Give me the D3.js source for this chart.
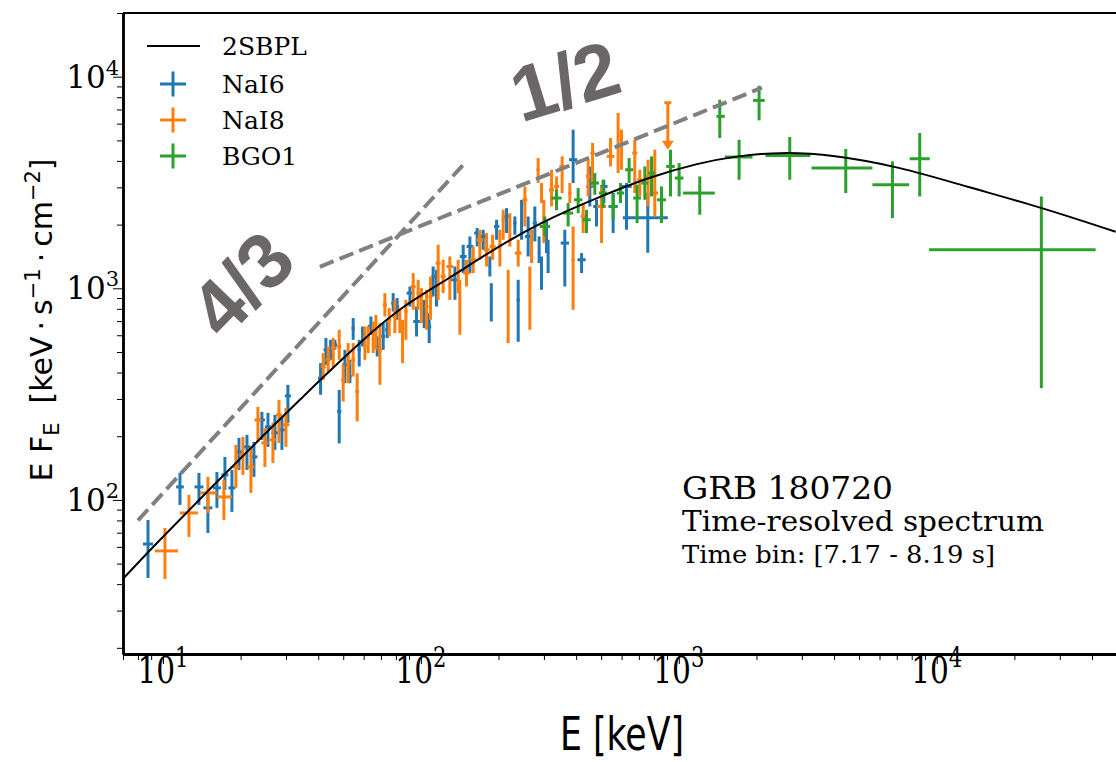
<!DOCTYPE html>
<html><head><meta charset="utf-8">
<script src="https://cdn.jsdelivr.net/npm/d3@7"></script>
<style>body{margin:0;background:#fff}svg{display:block}</style>
</head><body>
<svg id="chart" width="1116" height="762"></svg>
<script>
// ---------------- data (E [keV], E F_E, lower, upper, optional E bin low/high) ----------------
const modelCurve = [[7.0,42.4],[9.15,60],[15,111],[25,207],[34,297],[40.6,369],[60,575],[83,810],[126,1096],[190,1521],[289,2042],[494,2711],[773,3366],[1206,3918],[1618,4190],[2462,4415],[3953,4276],[7190,3750],[13070,3019],[25060,2428],[49400,1849]];

const nai6 = [
[8.75,61.9,42.8,80.4,8.37,9.15],[11.64,115.2,94.7,134.2,11.25,12.05],[13.79,115.2,94.7,134.2],[14.94,91.7,69.8,107.9],
[16.19,114,91.7,135.6],[17.39,131.3,111.5,159.7],[18.51,114,87.8,138.6],[19.71,168.7,138.6,196.4],[21.17,178.1,138.6,202.9],
[22.53,159.7,128.5,188.0],[24.19,238.9,192.2,260.7],[25.53,221.4,178.1,257.8],[27.17,207.4,172.4,252.3],[28.92,214.3,172.4,246.9],
[30.51,310.2,231.3,349.8],[40.85,376,314,443],[42.83,512,435,582],[44.67,512,459,571],[46.42,541,512,571],[48.24,262,185,331],
[50.75,435,356,512],[53.06,383,356,459],[54.65,648,571,723],[57.67,512,427,571],[59.43,637,531,660],[64.01,660,603,736],
[67.72,531,476,592],[71.44,592,512,685],[74.04,637,582,697],[78.1,851,777,949],[80.92,820,710,899],[90.7,949,820,1020],
[96.2,697,592,820],[103.0,763,648,882],[107.7,660,551,763],
[111.6,1137,915,1268],[115.0,1097,820,1223],[135.5,1097,882,1268],[145.9,1414,1180,1606],[154.9,1577,1180,1758],
[165.3,1824,1577,1926],[174.4,1758,1521,1891],[185.1,1268,1137,1414],[187.5,851,697,1058],[196.6,1960,1696,2108],[214.9,2185,1824,2394],
[231.4,2034,1791,2185],[238.4,882,559,1097],[245.7,2528,1696,2620],[260.6,1758,1414,2185],[276.6,2034,1665,2437],[287.4,1467,1316,1758],
[293.6,1160,984,1414],
[307,1758,1467,2108],[311.4,1467,1180,1696],[361.5,1636,1020,1891],[389.3,4052,3144,5616],[419.8,1364,1180,1467],
[451.9,3030,2437,3766],[479.7,2437,1960,2620],[512.2,3030,2528,3258],[556.4,2437,1824,2819],[627.0,3030,1891,3144],
[758.2,2154,1472,2828,606.6,906.7]
];

const nai8 = [
[10.18,57.4,42.3,73.7,9.31,11.43],[12.61,86.8,66.9,105.6,11.64,13.67],[14.94,107.9,86.8,128.5,13.91,16.19],[17.23,103.3,80.4,124.3,16.19,18.51],
[19.18,143.2,114,182],[20.42,163.3,131.3,198.6],[21.93,143.2,107.9,178.1],[23.35,238.9,188,275.3],[24.85,186,143.2,219],
[26.69,192.2,149.6,231.3],[28.17,252.3,186,297],[29.98,226.3,178.1,272.3],
[41.81,427,369,494],[43.72,459,397,531],[45.72,522,419,582],[48.24,531,459,637],[49.98,369,292,435],[52.26,443,356,551],
[54.65,459,383,551],[56.64,325,235,397],[60.67,531,459,660],[62.48,582,494,660],[65.33,571,494,697],[66.93,637,512,749],
[69.36,512,350,685],[72.53,836,736,949],[75.36,710,592,806],[79.29,736,614,882],[82.9,685,614,806],[84.92,571,443,710],
[87.48,777,571,882],[93.37,1020,791,1180],[97.6,949,791,1097],[100.5,915,685,1002],[105.2,820,637,984],[109.0,915,710,1137],
[116.7,1316,882,1606],[122.0,1137,949,1364],[129.5,1268,882,1414],[139.5,1223,949,1364],[141.6,882,603,1097],[150.3,1180,1020,1364],
[159.5,1364,1180,1577],[169.3,1696,1364,1891],[179.8,1521,1268,1824],[189.7,1577,1364,1791],[202.4,1577,1268,1891],
[208.5,2108,1696,2351],[218,882,551,1223],[221.3,1960,1577,2267],[238.4,1467,1268,1696],[253.1,2620,1960,3030],[264.6,984,637,1268],[268.6,1636,1316,1891],
[284.9,3633,3144,4127],[293.6,2819,2528,3144],[299.7,2185,1636,2620],[321.1,2922,2437,3633],[335.7,3030,2620,3378],
[352.9,3766,2819,4201],[378.1,2819,2528,3144],[389.3,1364,791,1960],[425.8,2185,1824,2528],[445.1,3378,2717,4052],
[463.0,4358,3030,4860],[501.8,2437,1636,3030],[543.7,4201,3766,5131],[581.7,4684,3505,6737],[599.6,4358,3633,5616],
[675.1,4358,2819,5036],[706.3,3258,2717,3633],[760.3,3378,2437,4052],[807.2,2819,2185,4518]
];
// upper limit: [E, value, arrow end]
const nai8UpperLimits = [[906.7,7534,4518]];

const bgo1 = [
[302.4,1960,1758,2185],[335.7,2670,2338,2922],[372.3,2267,1960,2528],[407.2,2620,2267,2977],[438.7,2108,1824,2351],
[472.5,3144,2768,3505],[508.8,2819,2394,3258],[556.4,2437,2108,2819],[594.3,2819,2528,3144],[641.8,3633,3144,4127],
[689.1,2670,2034,3086],[738.3,3144,2620,3766],[784,3505,2717,4201],[856.8,2620,2034,3030],[928.6,3766,2717,4518],
[1003,3319,2717,3908],[1206,2819,2226,3378,1039,1379],[1442,6492,5131,7783,1400,1508],[1713,4173,3258,5036,1508,1931],
[2048,7725,6216,9066,1941,2154],[2693,4246,3258,5187,2168,3239],[4440,3701,2819,4553,3268,5633],
[6735,3086,2147,3978,5633,7808],[8593,4096,2717,5418,7857,9396],[25450,1521,337.4,2717,9337,41330]
];

const slope43 = [[8,80],[150,3980]];
const slope12 = [[40.6,1264],[2100,8870]];
const slopeLabels = ['4/3','1/2'];
const xTickValues = [10,100,1000,10000];
const yTickValues = [100,1000,10000];
const legendLabels = ['2SBPL','NaI6','NaI8','BGO1'];
const infoLines = ['GRB 180720','Time-resolved spectrum','Time bin: [7.17 - 8.19 s]'];

// ---------------- drawing ----------------
const W = 1116, H = 762;
const serif = "'DejaVu Serif', serif";
const sans = "'DejaVu Sans', sans-serif";
const col = {nai6:'#1f77b4', nai8:'#ff7f0e', bgo1:'#2ca02c'};
const svg = d3.select('#chart');
svg.append('rect').attr('width',W).attr('height',H).attr('fill','#fff');

const x = d3.scaleLog().domain([7,5e4]).range([123,1117]);
const y = d3.scaleLog().domain([18.7,2e4]).range([654,13]);

svg.append('clipPath').attr('id','clip').append('rect')
  .attr('x',x.range()[0]).attr('y',y.range()[1]).attr('width',W).attr('height',y.range()[0]-y.range()[1]);
const plot = svg.append('g').attr('clip-path','url(#clip)');

function withXErr(rows){
  const s = rows.slice().sort((a,b)=>a[0]-b[0]);
  return s.map((r,i)=>{
    let lo=r[4], hi=r[5];
    if(lo===undefined){
      const lg=Math.log10(r[0]);
      const dl = i>0 ? (lg-Math.log10(s[i-1][0]))/2 : Infinity;
      const dr = i<s.length-1 ? (Math.log10(s[i+1][0])-lg)/2 : Infinity;
      const h=Math.max(0.004,Math.min(dl,dr,0.02));
      lo=Math.pow(10,lg-h); hi=Math.pow(10,lg+h);
    }
    return {E:r[0],F:r[1],Flo:r[2],Fhi:r[3],Elo:lo,Ehi:hi};
  });
}
function drawSeries(rows,color){
  const d = withXErr(rows);
  const g = plot.append('g').attr('stroke',color).attr('stroke-width',3);
  g.selectAll('line.v').data(d).join('line').attr('class','v')
    .attr('x1',p=>x(p.E)).attr('x2',p=>x(p.E)).attr('y1',p=>y(p.Fhi)).attr('y2',p=>y(p.Flo));
  g.selectAll('line.h').data(d).join('line').attr('class','h')
    .attr('x1',p=>x(p.Elo)).attr('x2',p=>x(p.Ehi)).attr('y1',p=>y(p.F)).attr('y2',p=>y(p.F));
  return g;
}
drawSeries(nai6,col.nai6);
const g8 = drawSeries(nai8,col.nai8);
// upper limit
nai8UpperLimits.forEach(u=>{
  const xe=x(u[0]), y0=y(u[1]), y1=y(u[2]);
  g8.append('line').attr('x1',xe-3.5).attr('x2',xe+3.5).attr('y1',y0).attr('y2',y0);
  g8.append('line').attr('x1',xe).attr('x2',xe).attr('y1',y0).attr('y2',y1-6);
  g8.append('path').attr('d',`M${xe-6},${y1-9}L${xe+6},${y1-9}L${xe},${y1}Z`).attr('fill',col.nai8).attr('stroke','none');
});
drawSeries(bgo1,col.bgo1);

// power-law guide lines
const line = d3.line().x(d=>x(d[0])).y(d=>y(d[1]));
[slope43,slope12].forEach(s=>{
  plot.append('path').attr('d',line(s)).attr('fill','none').attr('stroke','#808080')
    .attr('stroke-width',4).attr('stroke-dasharray','14.8,6.4');
});

// model curve
plot.append('path').datum(modelCurve)
  .attr('d',d3.line().x(d=>x(d[0])).y(d=>y(d[1])).curve(d3.curveBasis))
  .attr('fill','none').attr('stroke','#000').attr('stroke-width',2);

// slope labels
const slopePos = [[242,284,-46],[565,81,-17]];
slopeLabels.forEach((t,i)=>{
  svg.append('text').text(t)
    .attr('transform',`translate(${slopePos[i][0]},${slopePos[i][1]}) rotate(${slopePos[i][2]})`)
    .attr('text-anchor','middle').attr('dominant-baseline','central')
    .attr('font-family',"'Liberation Sans', Arial, sans-serif").attr('font-weight','bold')
    .attr('font-size',78).attr('fill','#6b6767');
});

// axes
const minorX = x.ticks().filter(v=>Math.abs(Math.log10(v)-Math.round(Math.log10(v)))>1e-6);
const minorY = y.ticks().filter(v=>Math.abs(Math.log10(v)-Math.round(Math.log10(v)))>1e-6);
const axB = svg.append('g').attr('transform',`translate(0,${y.range()[0]})`);
axB.call(d3.axisBottom(x).tickValues(xTickValues).tickSize(10).tickFormat('').tickSizeOuter(0));
axB.append('g').call(d3.axisBottom(x).tickValues(minorX).tickSize(6).tickFormat('').tickSizeOuter(0));
const axL = svg.append('g').attr('transform',`translate(${x.range()[0]},0)`);
axL.call(d3.axisLeft(y).tickValues(yTickValues).tickSize(10).tickFormat('').tickSizeOuter(0));
axL.append('g').call(d3.axisLeft(y).tickValues(minorY).tickSize(6).tickFormat('').tickSizeOuter(0));
svg.selectAll('.domain').attr('stroke','#000').attr('stroke-width',2.5);
svg.selectAll('.tick line').attr('stroke','#000').attr('stroke-width',1);
axB.select('.domain').attr('stroke-width',3);
svg.append('line').attr('x1',x.range()[0]).attr('x2',W).attr('y1',y.range()[1]).attr('y2',y.range()[1])
  .attr('stroke','#000').attr('stroke-width',2);

// x tick labels
xTickValues.forEach(v=>{
  const g = svg.append('g').attr('transform',`translate(${x(v)},683) scale(0.78,1)`);
  const t = g.append('text').attr('text-anchor','middle').attr('font-family',serif).attr('font-size',38).attr('fill','#000');
  t.append('tspan').text('10');
  t.append('tspan').text(Math.round(Math.log10(v))).attr('font-size',27).attr('dy',-16);
});
// y tick labels
yTickValues.forEach(v=>{
  const t = svg.append('text').attr('x',119).attr('y',y(v)+11).attr('text-anchor','end')
    .attr('font-family',serif).attr('font-size',31).attr('fill','#000');
  t.append('tspan').text('10');
  t.append('tspan').text(Math.round(Math.log10(v))).attr('font-size',21).attr('dy',-13);
});

// axis labels
const xl = svg.append('g').attr('transform','translate(622,750) scale(0.74,1)');
xl.append('text').text('E [keV]').attr('text-anchor','middle').attr('font-family',sans).attr('font-size',47).attr('fill','#000');

const yl = svg.append('text').attr('transform','translate(52,320) rotate(-90)').attr('text-anchor','middle')
  .attr('font-family',sans).attr('font-size',30).attr('fill','#000');
yl.append('tspan').text('E F');
yl.append('tspan').text('E').attr('font-size',21).attr('dy',7);
yl.append('tspan').text('\u00a0\u00a0[keV\u2009\u00b7\u2009s').attr('dy',-7);
yl.append('tspan').text('\u22121').attr('font-size',21).attr('dy',-12);
yl.append('tspan').text('\u2009\u00b7\u2009cm').attr('dy',12);
yl.append('tspan').text('\u22122').attr('font-size',21).attr('dy',-12);
yl.append('tspan').text(']').attr('dy',12);

// legend
const legY = [46,84,120,156];
const legColors = ['#000',col.nai6,col.nai8,col.bgo1];
legendLabels.forEach((lab,i)=>{
  const cy = legY[i];
  if(i===0){
    svg.append('line').attr('x1',147).attr('x2',200).attr('y1',cy).attr('y2',cy).attr('stroke','#000').attr('stroke-width',2);
  } else {
    svg.append('line').attr('x1',160).attr('x2',186).attr('y1',cy).attr('y2',cy).attr('stroke',legColors[i]).attr('stroke-width',3);
    svg.append('line').attr('x1',173).attr('x2',173).attr('y1',cy-12.5).attr('y2',cy+12.5).attr('stroke',legColors[i]).attr('stroke-width',3);
  }
  svg.append('text').text(lab).attr('x',222).attr('y',cy+9).attr('font-family',serif).attr('font-size',25).attr('fill','#000');
});

// info text
const infoSizes = [31,27.5,24], infoY = [499,531,563], infoW = [211,362,313];
infoLines.forEach((t,i)=>{
  svg.append('text').text(t).attr('x',682).attr('y',infoY[i]).attr('font-family',serif)
    .attr('font-size',infoSizes[i]).attr('fill','#000')
    .attr('textLength',infoW[i]).attr('lengthAdjust','spacingAndGlyphs');
});
</script>
</body></html>
